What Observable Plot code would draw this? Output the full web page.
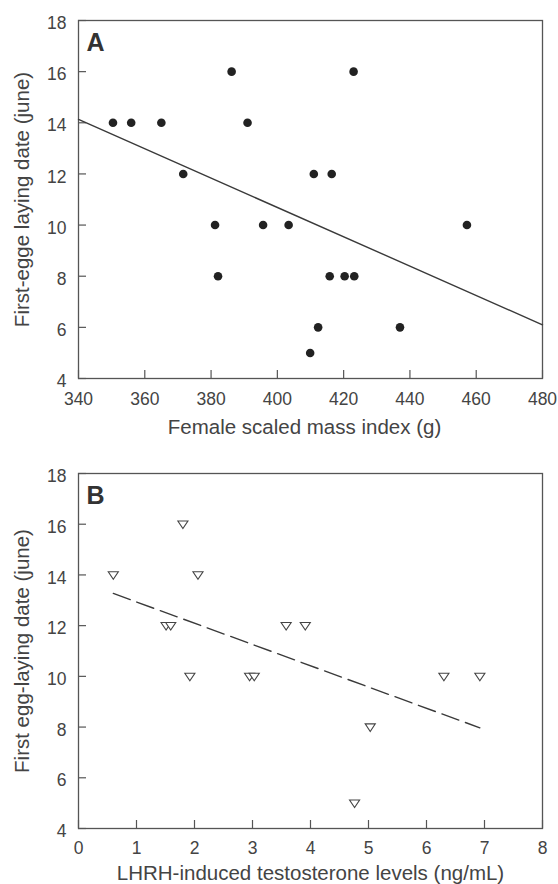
<!DOCTYPE html>
<html>
<head>
<meta charset="utf-8">
<script src="https://cdn.jsdelivr.net/npm/d3@7"></script>
<script src="https://cdn.jsdelivr.net/npm/@observablehq/plot@0.6"></script>
<style>
  html, body { margin: 0; padding: 0; background: #fff; }
  #chart svg { display: block; }
</style>
</head>
<body>
<div id="chart"></div>
<script>
// ---- Panel A data ----
const aMass = [350.4, 355.9, 365.0, 371.6, 386.2, 391.0, 381.2, 382.1, 395.7, 403.4, 411.0, 416.4, 423.0, 415.8, 420.3, 423.2, 412.3, 409.9, 437.0, 457.2];
const aDate = [14, 14, 14, 12, 16, 14, 10, 8, 10, 10, 12, 12, 16, 8, 8, 8, 6, 5, 6, 10];
const aFitX = [340, 480];
const aFitY = [14.13, 6.10];
const aXTicks = [340, 360, 380, 400, 420, 440, 460, 480];
const yTicks = [4, 6, 8, 10, 12, 14, 16, 18];

// ---- Panel B data ----
const bTesto = [0.60, 1.80, 2.06, 1.51, 1.59, 1.92, 2.95, 3.03, 3.58, 3.91, 4.76, 5.03, 6.30, 6.92];
const bDate = [14, 16, 14, 12, 12, 10, 10, 10, 12, 12, 5, 8, 10, 10];
const bFitX = [0.60, 6.92];
const bFitY = [13.27, 7.97];
const bXTicks = [0, 1, 2, 3, 4, 5, 6, 7, 8];

const font = "'Liberation Sans', Arial, Helvetica, sans-serif";
const axisColor = "#555";

const triangleDown = {
  draw(context, size) {
    const s = Math.sqrt(size / Math.PI);
    context.moveTo(-s * 1.2, -s * 0.75);
    context.lineTo(s * 1.2, -s * 0.75);
    context.lineTo(0, s * 1.05);
    context.closePath();
  }
};

function panel(o) {
  const W = 558, H = o.height;
  const innerW = W - o.ml - o.mr, innerH = H - o.mt - o.mb;
  return Plot.plot({
    width: W, height: H,
    marginLeft: o.ml, marginRight: o.mr, marginTop: o.mt, marginBottom: o.mb,
    style: {fontFamily: font, color: "#444", background: "white", overflow: "visible"},
    x: {domain: o.xDomain},
    y: {domain: [4, 18]},
    marks: [
      Plot.frame({stroke: axisColor, strokeWidth: 1.3}),
      Plot.tickX(o.xTicks, {x: d => d, insetTop: innerH - 8, stroke: axisColor, strokeWidth: 1.2}),
      Plot.tickY(yTicks, {y: d => d, insetRight: innerW - 8, stroke: axisColor, strokeWidth: 1.2}),
      Plot.axisX({ticks: o.xTicks, tickSize: 0, tickPadding: o.xPad, fontSize: 17.5, label: null, fill: "#444"}),
      Plot.axisY({ticks: yTicks, tickSize: 0, tickPadding: 12, fontSize: 17.5, label: null, dy: 3, fill: "#444"}),
      Plot.text([o.xTitle], {frameAnchor: "bottom", text: d => d, dy: o.xTitleDy, dx: o.xTitleDx, fontSize: 20.5, fill: "#444", textAnchor: "middle", lineAnchor: "middle"}),
      Plot.text([o.yTitle], {frameAnchor: "left", text: d => d, rotate: -90, dx: -56, fontSize: 20.5, fill: "#444", textAnchor: "middle", lineAnchor: "middle"}),
      Plot.text([o.tag], {frameAnchor: "top-left", text: d => d, dx: 8, dy: 13, fontSize: 25, fontWeight: "bold", fill: "#333", textAnchor: "start", lineAnchor: "top"}),
      Plot.line(o.fitX.map((x, i) => ({x, y: o.fitY[i]})), {x: "x", y: "y", stroke: "#3a3a3a", strokeWidth: 1.4, strokeDasharray: o.dash}),
      o.points
    ]
  });
}

const aData = aMass.map((x, i) => ({x, y: aDate[i]}));
const bData = bTesto.map((x, i) => ({x, y: bDate[i]}));

const chartA = panel({
  height: 452, ml: 78, mr: 16, mt: 20, mb: 74,
  xDomain: [340, 480], xTicks: aXTicks, xPad: 14,
  xTitle: "Female scaled mass index (g)", xTitleDy: 49, xTitleDx: -6,
  yTitle: "First-egge laying date (june)", tag: "A",
  fitX: aFitX, fitY: aFitY, dash: null,
  points: Plot.dot(aData, {x: "x", y: "y", r: 4.3, fill: "#222", stroke: "none"})
});

const chartB = panel({
  height: 432, ml: 78, mr: 16, mt: 21, mb: 56,
  xDomain: [0, 8], xTicks: bXTicks, xPad: 13,
  xTitle: "LHRH-induced testosterone levels (ng/mL)", xTitleDy: 44.5, xTitleDx: 0,
  yTitle: "First egg-laying date (june)", tag: "B",
  fitX: bFitX, fitY: bFitY, dash: "18,7",
  points: Plot.dot(bData, {x: "x", y: "y", r: 4.2, symbol: triangleDown, fill: "white", stroke: "#444", strokeWidth: 1.1})
});

const el = document.getElementById("chart");
el.appendChild(chartA);
el.appendChild(chartB);
</script>
</body>
</html>
